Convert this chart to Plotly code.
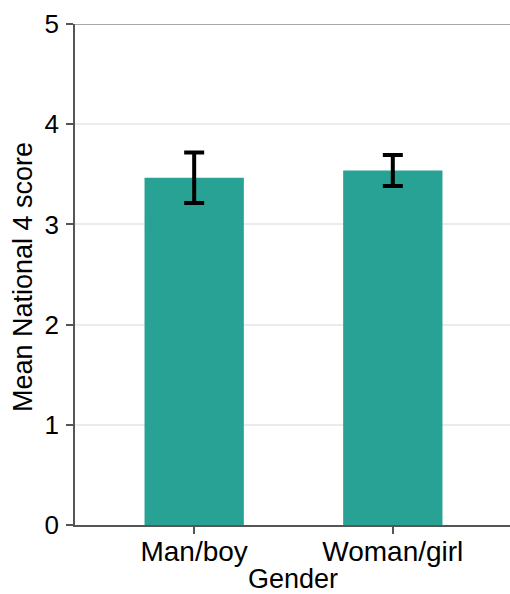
import plotly.graph_objects as go

# Mean National 4 score by gender, with error bars
genders = ["Man/boy", "Woman/girl"]
mean_scores = [3.465, 3.537]
error_half = [0.252, 0.155]

teal = "#29a296"
font_family = "Liberation Sans, Arial, sans-serif"

fig = go.Figure()
fig.add_trace(go.Bar(
    x=genders,
    y=mean_scores,
    width=0.5,
    marker=dict(color=teal, line=dict(width=0)),
    error_y=dict(type="data", array=error_half, visible=True,
                 color="black", thickness=4, width=10),
    showlegend=False,
))

# top frame line at the upper axis limit
fig.add_shape(type="line", xref="paper", yref="y", x0=0, x1=1, y0=5, y1=5,
              line=dict(color="#8a8a8a", width=1.5), layer="above")

# axis titles
fig.add_annotation(text="Gender", xref="paper", yref="paper",
                   x=0.5, y=-0.107, xanchor="center", yanchor="middle",
                   showarrow=False, font=dict(size=27, color="black"))
fig.add_annotation(text="Mean National 4 score", xref="paper", yref="paper",
                   x=-0.12, y=0.4945, xanchor="center", yanchor="middle",
                   textangle=-90, showarrow=False,
                   font=dict(size=27, color="black"))

fig.update_layout(
    width=510, height=594,
    margin=dict(l=75, r=0, t=24, b=68.5),
    paper_bgcolor="white", plot_bgcolor="white",
    font=dict(family=font_family, size=27, color="black"),
    xaxis=dict(
        range=[-0.6, 1.59],
        showline=True, linecolor="#555555", linewidth=1.5,
        ticks="outside", ticklen=7, tickwidth=1.5, tickcolor="#555555",
        tickfont=dict(size=28, color="black"),
        ticklabelstandoff=-6,
        showgrid=False, zeroline=False,
    ),
    yaxis=dict(
        range=[0, 5],
        tickvals=[0, 1, 2, 3, 4, 5],
        showline=True, linecolor="#555555", linewidth=1.5,
        ticks="outside", ticklen=7, tickwidth=1.5, tickcolor="#555555",
        tickfont=dict(size=26, color="black"),
        ticklabelstandoff=2,
        showgrid=True, gridcolor="#ebebeb", gridwidth=1.5,
        zeroline=False,
    ),
)

fig.write_html("out.html")
